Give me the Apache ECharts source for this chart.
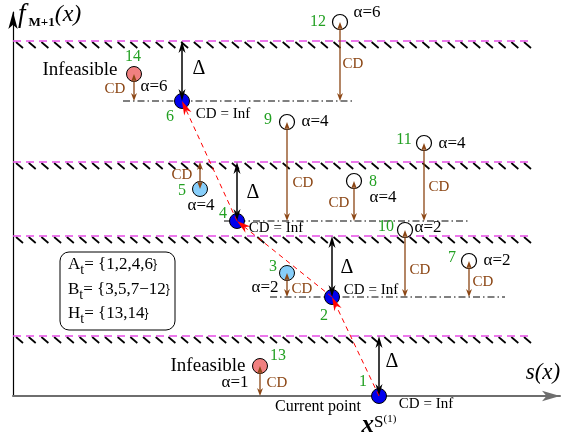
<!DOCTYPE html>
<html><head><meta charset="utf-8">
<script src="https://cdn.jsdelivr.net/npm/echarts@6/dist/echarts.min.js"></script>
<style>html,body{margin:0;padding:0;background:#fff}#c{width:563px;height:439px}</style>
</head><body><div id="c"></div>
<script>
// ---- data (s = position along s(x), f = value of f_{M+1}(x)) ----
const selectedIds = ['1','2','4','6'];
const selectedS = [366,319,224,169];
const selectedF = [0,99,175,295];
const nearIds = ['3','5'];
const nearS = [274,187];
const nearF = [123,207];
const otherIds = ['7','8','9','10','11','12'];
const otherS = [456,341,274,392,411,327];
const otherF = [135,215,274,166,253,374];
const infeasIds = ['13','14'];
const infeasS = [247,121];
const infeasF = [30,322];
const pathOrder = ['1','2','4','6'];

const levelF = [60,160,234,355];
const levelEndS = 517;
const refF = [99,175,295];
const refStartS = [257,211,110];
const refEndS = [492,457,342];

const cdS = [121,327,274,411,341,187,274,392,456,247];
const cdTop = [322,374,274,253,215,234,123,166,135,30];
const cdBottom = [295,295,175,175,175,207,99,99,99,0];

const deltaS = [169,224,319,366];
const deltaTop = [355,234,160,60];
const deltaBottom = [295,175,99,0];

const idLabelText = ['1','2','3','4','5','6','7','8','9','10','11','12','13','14'];
const idLabelS = [350,311,260,210,169,157,439,360,255,373,391,305,265,120];
const idLabelF = [14,80,129,182,205,279,138,214,276,169,256,374,40,339];

const alphaText = ['α=6','α=4','α=6','α=4','α=4','α=4','α=2','α=2','α=2','α=1'];
const alphaS = [141,188,354,302,439,370,415,484,252,222];
const alphaF = [309,190,383,274,252,198,168,135,108,13];

const cdLabelS = [102,340,169,290,326,426,289,407,470,264];
const cdLabelF = [307,332,221,213,193,209,107,126,114,13];

const deltaLabelS = [186,240,334,379];
const deltaLabelF = [327,203,128,34];

const infLabelS = [210,263,358,413];
const infLabelF = [282,168,106,-8];

const setLines = ['{m|A}{sub|t}{m|= {1,2,4,6}}','{m|B}{sub|t}{m|= {3,5,7−12}}','{m|H}{sub|t}{m|= {13,14}}'];
const setLineF = [131,106,82];

// ---- helpers ----
const SERIF = '"Liberation Serif","DejaVu Serif",serif';
const GREEN = '#22a022', BROWN = '#8B4513', MAGENTA = '#E64CE6';
function idx(id){
  let i = selectedIds.indexOf(id);
  return [selectedS[i], selectedF[i]];
}
function headPoly(tip, tail, len, w){
  const dx = tip[0]-tail[0], dy = tip[1]-tail[1];
  const L = Math.hypot(dx,dy)||1, ux = dx/L, uy = dy/L, px = -uy, py = ux;
  const bx = tip[0]-ux*len, by = tip[1]-uy*len;
  const nx = tip[0]-ux*len*0.7, ny = tip[1]-uy*len*0.7;
  return [[tip[0],tip[1]],[bx+px*w/2,by+py*w/2],[nx,ny],[bx-px*w/2,by-py*w/2]];
}
function arrowGroup(a, b, color, lw, len, w, both, dash){
  const ch = [];
  const dx=b[0]-a[0], dy=b[1]-a[1], L=Math.hypot(dx,dy)||1;
  const sA = both ? [a[0]+dx/L*len*0.7, a[1]+dy/L*len*0.7] : a;
  const sB = [b[0]-dx/L*len*0.7, b[1]-dy/L*len*0.7];
  ch.push({type:'line', shape:{x1:sA[0],y1:sA[1],x2:sB[0],y2:sB[1]}, style:{stroke:color, lineWidth:lw, lineDash:dash||null}});
  ch.push({type:'polygon', shape:{points:headPoly(b,a,len,w)}, style:{fill:color}});
  if(both) ch.push({type:'polygon', shape:{points:headPoly(a,b,len,w)}, style:{fill:color}});
  return {type:'group', children:ch};
}
function textSeries(name, S, F, texts, style, z, align){
  return {
    type:'custom', name, z, clip:false, silent:true,
    data: S.map((s,i)=>[s,F[i]]),
    renderItem:(params, api)=>{
      const p = api.coord([api.value(0), api.value(1)]);
      const t = texts[params.dataIndex];
      return {type:'text', x:p[0], y:p[1], style:Object.assign({text:t, align:align||'center', verticalAlign:'middle'}, style)};
    }
  };
}

const pathSegments = [];
for(let i=0;i<pathOrder.length-1;i++){
  const a = idx(pathOrder[i]), b = idx(pathOrder[i+1]);
  pathSegments.push([a[0],a[1],b[0],b[1]]);
}

const option = {
  animation:false,
  grid:{left:13, right:3, top:12, bottom:43},
  xAxis:{type:'value', min:0, max:547, axisLabel:{show:false}, axisTick:{show:false}, splitLine:{show:false},
    axisLine:{show:true, lineStyle:{color:'#6e6e6e', width:2}, symbol:['none','arrow'], symbolSize:[8,18]}},
  yAxis:{type:'value', min:0, max:384, axisLabel:{show:false}, axisTick:{show:false}, splitLine:{show:false},
    axisLine:{show:true, lineStyle:{color:'#000', width:1.2}, symbol:['none','arrow'], symbolSize:[7,17]}},
  series:[
    // hatched feasibility levels
    {type:'custom', z:1, clip:false, silent:true,
     data: levelF.map(f=>[0,f,levelEndS]),
     renderItem:(params, api)=>{
       const a = api.coord([api.value(0), api.value(1)]);
       const b = api.coord([api.value(2), api.value(1)]);
       const ch = [];
       for(let x=a[0]+3; x<b[0]-2; x+=12.7){
         ch.push({type:'line', shape:{x1:x,y1:a[1]+1,x2:x+7,y2:a[1]+7}, style:{stroke:'#000', lineWidth:1.7}});
       }
       ch.push({type:'line', shape:{x1:a[0],y1:a[1],x2:b[0],y2:b[1]}, style:{stroke:MAGENTA, lineWidth:1.5, lineDash:[8,5]}});
       return {type:'group', children:ch};
     }},
    // dash-dot reference lines
    {type:'custom', z:1, clip:false, silent:true,
     data: refF.map((f,i)=>[refStartS[i],f,refEndS[i]]),
     renderItem:(params, api)=>{
       const a = api.coord([api.value(0), api.value(1)]);
       const b = api.coord([api.value(2), api.value(1)]);
       return {type:'line', shape:{x1:a[0],y1:a[1],x2:b[0],y2:b[1]}, style:{stroke:'#000', lineWidth:1, lineDash:[7,3,1.5,3]}};
     }},
    // points
    {type:'scatter', z:3, clip:false, symbolSize:15, data:selectedS.map((s,i)=>[s,selectedF[i]]),
     itemStyle:{color:'#0000EE', borderColor:'#000', borderWidth:1, opacity:1}},
    {type:'scatter', z:3, clip:false, symbolSize:15, data:nearS.map((s,i)=>[s,nearF[i]]),
     itemStyle:{color:'#87CEFA', borderColor:'#000', borderWidth:1, opacity:1}},
    {type:'scatter', z:3, clip:false, symbolSize:15, data:otherS.map((s,i)=>[s,otherF[i]]),
     itemStyle:{color:'#fff', borderColor:'#000', borderWidth:1.2, opacity:1}},
    {type:'scatter', z:3, clip:false, symbolSize:15, data:infeasS.map((s,i)=>[s,infeasF[i]]),
     itemStyle:{color:'#F08080', borderColor:'#000', borderWidth:1, opacity:1}},
    // CD arrows
    {type:'custom', z:5, clip:false, silent:true,
     data: cdS.map((s,i)=>[s,cdTop[i],cdBottom[i]]),
     renderItem:(params, api)=>{
       const a = api.coord([api.value(0), api.value(1)]);
       const b = api.coord([api.value(0), api.value(2)]);
       return arrowGroup(a,b,BROWN,1.3,8,6,true);
     }},
    // Delta arrows
    {type:'custom', z:5, clip:false, silent:true,
     data: deltaS.map((s,i)=>[s,deltaTop[i],deltaBottom[i]]),
     renderItem:(params, api)=>{
       const a = api.coord([api.value(0), api.value(1)]);
       const b = api.coord([api.value(0), api.value(2)]);
       return arrowGroup(a,b,'#000',1.5,12,7,true);
     }},
    // red path
    {type:'custom', z:5, clip:false, silent:true,
     data: pathSegments,
     renderItem:(params, api)=>{
       const a = api.coord([api.value(0), api.value(1)]);
       const b = api.coord([api.value(2), api.value(3)]);
       return arrowGroup(a,b,'#ff0000',1,14,8,false,[5,4]);
     }},
    // set box
    {type:'custom', z:6, clip:false, silent:true,
     data:[[47,144,162,66]],
     renderItem:(params, api)=>{
       const a = api.coord([api.value(0), api.value(1)]);
       const b = api.coord([api.value(2), api.value(3)]);
       const ch = [{type:'rect', shape:{x:a[0],y:a[1],width:b[0]-a[0],height:b[1]-a[1],r:9}, style:{fill:'#fff', stroke:'#000', lineWidth:1}}];
       setLineF.forEach((f,i)=>{
         const p = api.coord([55,f]);
         ch.push({type:'text', x:p[0], y:p[1], style:{text:setLines[i], align:'left', verticalAlign:'middle',
           rich:{m:{fontFamily:SERIF, fontSize:17, fill:'#000', lineHeight:24, verticalAlign:'middle'},
                 sub:{fontFamily:SERIF, fontSize:14, fill:'#000', lineHeight:12, verticalAlign:'bottom'}}}});
       });
       return {type:'group', children:ch};
     }},
    textSeries('ids', idLabelS, idLabelF, idLabelText, {fontFamily:SERIF, fontSize:16, fill:GREEN}, 7),
    textSeries('alpha', alphaS, alphaF, alphaText, {fontFamily:SERIF, fontSize:17, fill:'#000'}, 7),
    textSeries('cd', cdLabelS, cdLabelF, cdLabelS.map(()=> 'CD'), {fontFamily:SERIF, fontSize:15, fill:BROWN}, 7),
    textSeries('delta', deltaLabelS, deltaLabelF, deltaLabelS.map(()=> 'Δ'), {fontFamily:SERIF, fontSize:20, fill:'#000'}, 7),
    textSeries('inf', infLabelS, infLabelF, infLabelS.map(()=> 'CD = Inf'), {fontFamily:SERIF, fontSize:15, fill:'#000'}, 7),
    textSeries('infeasible', [67,195], [326,30], ['Infeasible','Infeasible'], {fontFamily:SERIF, fontSize:19, fill:'#000'}, 7),
    textSeries('current', [305], [-11], ['Current point'], {fontFamily:SERIF, fontSize:16, fill:'#000'}, 7),
    textSeries('sx', [530], [23], ['s(x)'], {fontFamily:SERIF, fontSize:23, fontStyle:'italic', fill:'#000'}, 7),
    textSeries('fm', [5], [381], ['{f|f}{s|M+1}{p|(x)}'], {rich:{
      f:{fontFamily:SERIF, fontSize:27, fontStyle:'italic', fill:'#000', lineHeight:28, verticalAlign:'middle', padding:[0,3,0,0]},
      s:{fontFamily:SERIF, fontSize:13, fontWeight:'bold', fill:'#000', lineHeight:11, verticalAlign:'bottom'},
      p:{fontFamily:SERIF, fontSize:24, fontStyle:'italic', fill:'#000', lineHeight:28, verticalAlign:'middle'}}}, 7, 'left'),
    textSeries('xs', [366], [-30], ['{x|x}{s|S}{p|(1)}'], {rich:{
      x:{fontFamily:SERIF, fontSize:25, fontStyle:'italic', fontWeight:'bold', fill:'#000', lineHeight:24, verticalAlign:'bottom'},
      s:{fontFamily:SERIF, fontSize:17, fill:'#000', lineHeight:18, verticalAlign:'top'},
      p:{fontFamily:SERIF, fontSize:11, fill:'#000', lineHeight:12, verticalAlign:'top'}}}, 7)
  ]
};
echarts.init(document.getElementById('c')).setOption(option);
</script></body></html>
